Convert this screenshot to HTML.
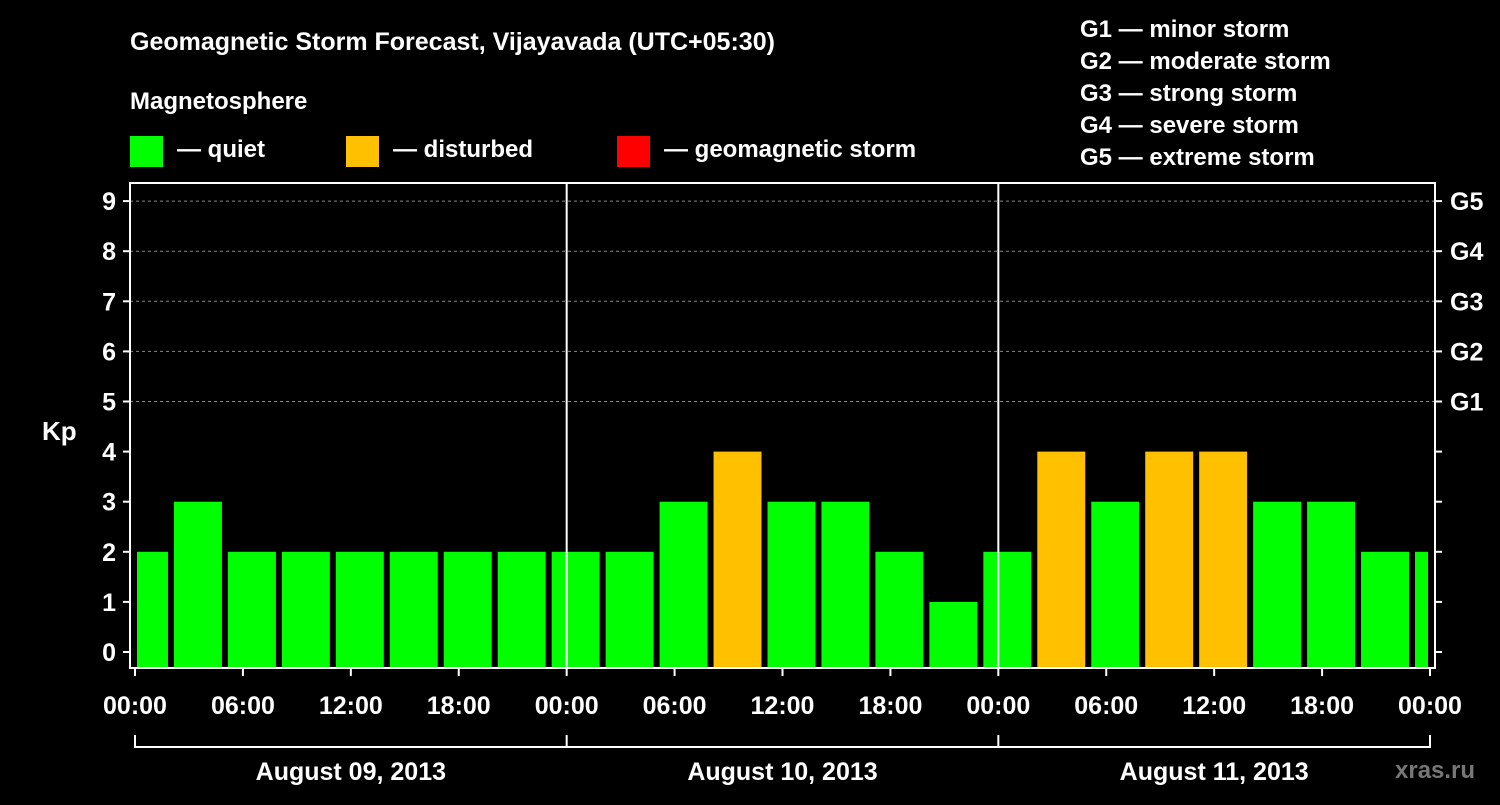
<!DOCTYPE html>
<html><head><meta charset="utf-8"><style>
body{margin:0;background:#000;width:1500px;height:800px;overflow:hidden}
svg text{font-family:"Liberation Sans",sans-serif;font-weight:bold;fill:#fff}
</style></head><body>
<svg id="c" width="1500" height="800">
<text x="130" y="50" font-size="25">Geomagnetic Storm Forecast, Vijayavada (UTC+05:30)</text>
<text x="130" y="109" font-size="24">Magnetosphere</text>
<rect x="130" y="136" width="33" height="31" fill="#00ff00"/>
<text x="177" y="157" font-size="24">— quiet</text>
<rect x="346" y="136" width="33" height="31" fill="#ffc000"/>
<text x="393" y="157" font-size="24">— disturbed</text>
<rect x="617" y="136" width="33" height="31" fill="#ff0000"/>
<text x="664" y="157" font-size="24">— geomagnetic storm</text>
<g font-size="24">
<text x="1080" y="37">G1 — minor storm</text>
<text x="1080" y="69">G2 — moderate storm</text>
<text x="1080" y="101">G3 — strong storm</text>
<text x="1080" y="133">G4 — severe storm</text>
<text x="1080" y="165">G5 — extreme storm</text>
</g>
<text x="42" y="440" font-size="26">Kp</text>
<text x="1395" y="778" font-size="24" fill="#888" style="fill:#777">xras.ru</text>
<g id="plot"></g>
</svg>
<script>
const values=[2,3,2,2,2,2,2,2,2,2,3,4,3,3,2,1,2,4,3,4,4,3,3,2,2];
const xTicks=["00:00","06:00","12:00","18:00","00:00","06:00","12:00","18:00","00:00","06:00","12:00","18:00","00:00"];
const days=["August 09, 2013","August 10, 2013","August 11, 2013"];
const gLabels=["G1","G2","G3","G4","G5"];
const NS="http://www.w3.org/2000/svg";
const g=document.getElementById('plot');
const X0=135,X1=1430,PX=(X1-X0)/72;
const x=h=>X0+h*PX;
const y=v=>652-v*50.1;
function el(t,a){const e=document.createElementNS(NS,t);for(const k in a)e.setAttribute(k,a[k]);g.appendChild(e);return e;}
for(let v=5;v<=9;v++){const l=el('line',{x1:130,x2:1435,y1:y(v),y2:y(v),stroke:'#888','stroke-dasharray':'3,3'});

}
values.forEach((v,i)=>{let h0=2+3*(i-1),h1=h0+3;
let a=Math.max(x(h0)+3,x(0)+2),b=Math.min(x(h1)-3,x(72)-2);
const r=el('rect',{x:a,y:y(v),width:b-a,height:667-y(v),fill:v>=4?'#ffc000':'#00ff00'});

});
el('rect',{x:130,y:183,width:1305,height:485,fill:'none',stroke:'#fff','stroke-width':2});
[24,48].forEach(h=>{const l=el('line',{x1:x(h),x2:x(h),y1:183,y2:668,stroke:'#fff','stroke-width':2});

});
for(let v=0;v<=9;v++){el('line',{x1:123,x2:130,y1:y(v),y2:y(v),stroke:'#fff','stroke-width':2});
el('line',{x1:1435,x2:1442,y1:y(v),y2:y(v),stroke:'#fff','stroke-width':2});
const t=el('text',{x:116,y:y(v)+9,'text-anchor':'end','font-size':25});t.textContent=v;

}
gLabels.forEach((s,i)=>{const t=el('text',{x:1450,y:y(5+i)+9,'font-size':25});t.textContent=s;

});
xTicks.forEach((s,i)=>{el('line',{x1:x(i*6),x2:x(i*6),y1:668,y2:676,stroke:'#fff','stroke-width':2});
const t=el('text',{x:x(i*6),y:714,'text-anchor':'middle','font-size':25});t.textContent=s;

});
el('line',{x1:X0,x2:X1,y1:747,y2:747,stroke:'#fff','stroke-width':2});
[0,24,48,72].forEach(h=>el('line',{x1:x(h),x2:x(h),y1:735,y2:748,stroke:'#fff','stroke-width':2}));
days.forEach((s,i)=>{const t=el('text',{x:x(i*24+12),y:780,'text-anchor':'middle','font-size':25});t.textContent=s;

});
</script>
</body></html>
